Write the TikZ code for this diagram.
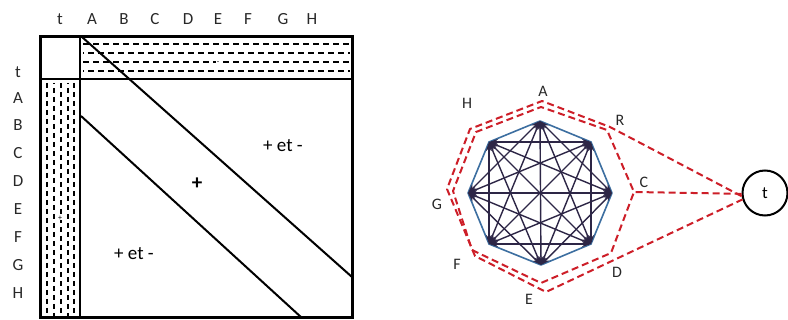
\documentclass[tikz,border=0pt]{standalone}
\usepackage{fontspec}
\setmainfont{Carlito}
\usetikzlibrary{arrows.meta}
\definecolor{dred}{RGB}{205,30,40}
\definecolor{octblue}{RGB}{60,110,160}
\definecolor{chord}{RGB}{45,38,70}
\definecolor{lbl}{RGB}{40,40,40}
\begin{document}
\begin{tikzpicture}[x=1pt,y=-1pt,
  axlab/.style={text=lbl,font=\fontsize{17}{17}\selectfont,inner sep=0pt},
  glab/.style={text=lbl,font=\fontsize{16}{16}\selectfont,inner sep=0pt},
  zone/.style={text=black,font=\fontsize{19}{19}\selectfont,inner sep=0pt},
  hatchh/.style={line width=1.2pt,dash pattern=on 6pt off 4pt},
  hatchv/.style={line width=1.2pt,dash pattern=on 5pt off 4pt},
  diag/.style={line width=2pt},
  chordline/.style={chord,line width=1.4pt,{Stealth[length=9pt,width=6pt]}-{Stealth[length=9pt,width=6pt]}},
  redpath/.style={dred,line width=2pt,dash pattern=on 7pt off 4pt,line join=round}]
\useasboundingbox (0,0) rectangle (788,320);
% ---------- matrix ----------
% hatch top band
\foreach \yy/\ph in {44/0,53/5,62/0,71/5}
  \draw[hatchh,dash phase=\ph pt] (83,\yy) -- (350,\yy);
% hatch left band
\foreach \xx/\ph in {47/0,54/4,61/0,68/4,74/0}
  \draw[hatchv,dash phase=\ph pt] (\xx,83) -- (\xx,316);
\draw[line width=3pt] (40,37) rectangle (352,318);
\draw[line width=2.5pt] (40,79) -- (352,79);
\draw[line width=2.5pt] (80,37) -- (80,318);
\draw[diag] (82,37) -- (352,277);
\draw[diag] (81,116) -- (302,318);
\node[fill=white,inner sep=0.5pt,font=\fontsize{8}{8}\selectfont] (mminus) at (218,63) {-};
\node[fill=white,font=\fontsize{8}{8}\selectfont,inner sep=0.3pt] (mplus) at (60,218) {+};
\node[zone] (z1) at (283,146) {+ et -};
\node[zone,font=\bfseries\fontsize{21}{21}\selectfont] (z2) at (197,184) {+};
\node[zone] (z3) at (134,254) {+ et -};
% column labels
\foreach \l/\xx in {t/60,A/92,B/124,C/155,D/188,E/218,F/248,G/283,H/312}
  \node[axlab] (c\l) at (\xx,19) {\l};
% row labels
\foreach \l/\yy in {t/72,A/98,B/125,C/153,D/181,E/209,F/237,G/265,H/293}
  \node[axlab] (r\l) at (18,\yy) {\l};
% ---------- graph ----------
\coordinate (A) at (540,121);
\coordinate (B) at (591,142);
\coordinate (C) at (612,193);
\coordinate (D) at (591,244);
\coordinate (E) at (541,265);
\coordinate (F) at (489,244);
\coordinate (G) at (468,193);
\coordinate (H) at (489,142);
\draw[octblue,line width=1.6pt,line join=round] (A)--(B)--(C)--(D)--(E)--(F)--(G)--(H)--cycle;
\foreach \i/\j in {A/C,A/D,A/E,A/F,A/G,B/D,B/E,B/F,B/G,B/H,C/E,C/F,C/G,C/H,D/F,D/G,D/H,E/G,E/H,F/H}
  \draw[chordline] (\i) -- (\j);
\node[glab] (lA) at (543,91) {A};
\node[glab] (lB) at (620,120) {R};
\node[glab] (lC) at (644,182) {C};
\node[glab] (lD) at (617,272) {D};
\node[glab] (lE) at (529,299) {E};
\node[glab] (lF) at (457,264) {F};
\node[glab] (lG) at (437,204) {G};
\node[glab] (lH) at (467,103) {H};
\node[draw,circle,line width=2pt,minimum size=45pt,inner sep=0pt,font=\fontsize{17}{17}\selectfont] (t) at (765,193) {t};
% red dashed outline
\coordinate (b1) at (610,127);
\coordinate (a1) at (542,101);
\coordinate (h1) at (470,129);
\coordinate (g1) at (447,189);
\coordinate (f1) at (475,256);
\coordinate (e1) at (546,292);
\coordinate (c2) at (634,192);
\coordinate (b2) at (607,130);
\coordinate (a2) at (541,107);
\coordinate (h2) at (476,132);
\coordinate (g2) at (453,191);
\coordinate (f2) at (472,250);
\coordinate (e2) at (541,283);
\coordinate (d2) at (611,253);
\draw[redpath] (t.188) -- (b1) -- (a1) -- (h1) -- (g1) -- (f1) -- (e1) -- (t.196);
\draw[redpath] (t.182) -- (c2) -- (b2) -- (a2) -- (h2) -- (g2) -- (f2) -- (e2) -- (d2) -- (c2);
\end{tikzpicture}
\end{document}
